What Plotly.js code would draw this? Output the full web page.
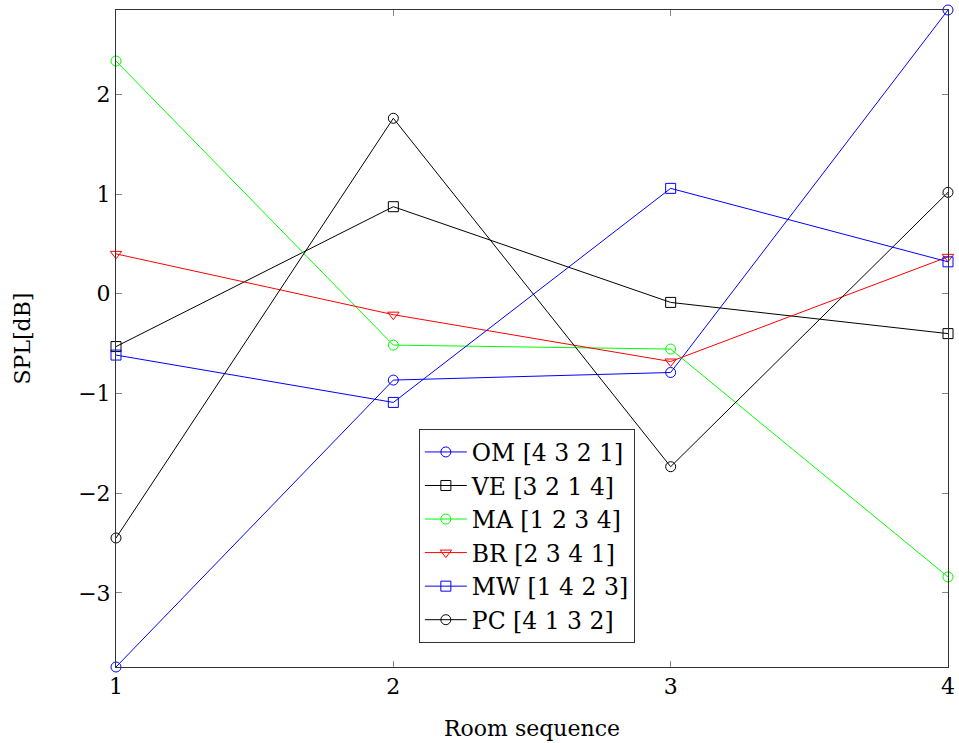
<!DOCTYPE html>
<html>
<head>
<meta charset="utf-8">
<script src="https://cdn.plot.ly/plotly-3.0.1.min.js"></script>
<style>html,body{margin:0;padding:0;background:#fff;}#chart{width:959px;height:743px;}</style>
</head>
<body>
<div id="chart"></div>
<script>
// Room sequence positions
const rooms = [1, 2, 3, 4];

// SPL differences in dB per listener group
const seriesNames = ['OM [4 3 2 1]', 'VE [3 2 1 4]', 'MA [1 2 3 4]', 'BR [2 3 4 1]', 'MW [1 4 2 3]', 'PC [4 1 3 2]'];
const omValues = [-3.744, -0.866, -0.79, 2.846];
const veValues = [-0.53, 0.873, -0.087, -0.40];
const maValues = [2.334, -0.515, -0.555, -2.84];
const brValues = [0.40, -0.21, -0.68, 0.37];
const mwValues = [-0.615, -1.09, 1.057, 0.32];
const pcValues = [-2.45, 1.76, -1.735, 1.017];

const styles = [
  {color: '#0000ff', symbol: 'circle-open'},
  {color: '#000000', symbol: 'square-open'},
  {color: '#00ff00', symbol: 'circle-open'},
  {color: '#ff0000', symbol: 'triangle-down-open'},
  {color: '#0000ff', symbol: 'square-open'},
  {color: '#000000', symbol: 'circle-open'}
];
const allValues = [omValues, veValues, maValues, brValues, mwValues, pcValues];

const traces = allValues.map((vals, i) => ({
  x: rooms,
  y: vals,
  name: seriesNames[i],
  type: 'scatter',
  mode: 'lines+markers',
  cliponaxis: false,
  line: {color: styles[i].color, width: 1},
  marker: {symbol: styles[i].symbol, size: 10, color: styles[i].color, line: {width: 1, color: styles[i].color}}
}));

const font = {family: 'DejaVu Serif, Liberation Serif, serif', size: 22, color: '#000'};
const legendFont = {family: 'DejaVu Serif, Liberation Serif, serif', size: 23.5, color: '#000'};

const layout = {
  width: 959,
  height: 743,
  margin: {l: 116, r: 11, t: 10, b: 76},
  paper_bgcolor: '#fff',
  plot_bgcolor: '#fff',
  font: font,
  showlegend: true,
  xaxis: {
    range: [1, 4],
    tickvals: rooms,
    ticktext: ['1', '2', '3', '4'],
    ticks: 'inside',
    ticklen: 6,
    tickcolor: '#888',
    showgrid: false,
    zeroline: false,
    showline: true,
    linecolor: '#333',
    linewidth: 1,
    mirror: 'allticks',
    tickfont: font,
    title: {text: 'Room sequence', font: font, standoff: 22}
  },
  yaxis: {
    range: [-3.744, 2.846],
    tickvals: [-3, -2, -1, 0, 1, 2],
    ticktext: ['\u22123', '\u22122', '\u22121', '0', '1', '2'],
    ticks: 'inside',
    ticklen: 6,
    tickcolor: '#888',
    showgrid: false,
    zeroline: false,
    showline: true,
    linecolor: '#333',
    linewidth: 1,
    mirror: 'allticks',
    tickfont: font,
    title: {text: 'SPL[dB]', font: font, standoff: 41}
  },
  legend: {
    x: 0.364,
    y: 0.362,
    xanchor: 'left',
    yanchor: 'top',
    bgcolor: '#fff',
    bordercolor: '#333',
    borderwidth: 1,
    font: legendFont,
    itemwidth: 42,
    tracegroupgap: 0
  }
};

Plotly.newPlot('chart', traces, layout, {displayModeBar: false, staticPlot: true});
</script>
</body>
</html>
